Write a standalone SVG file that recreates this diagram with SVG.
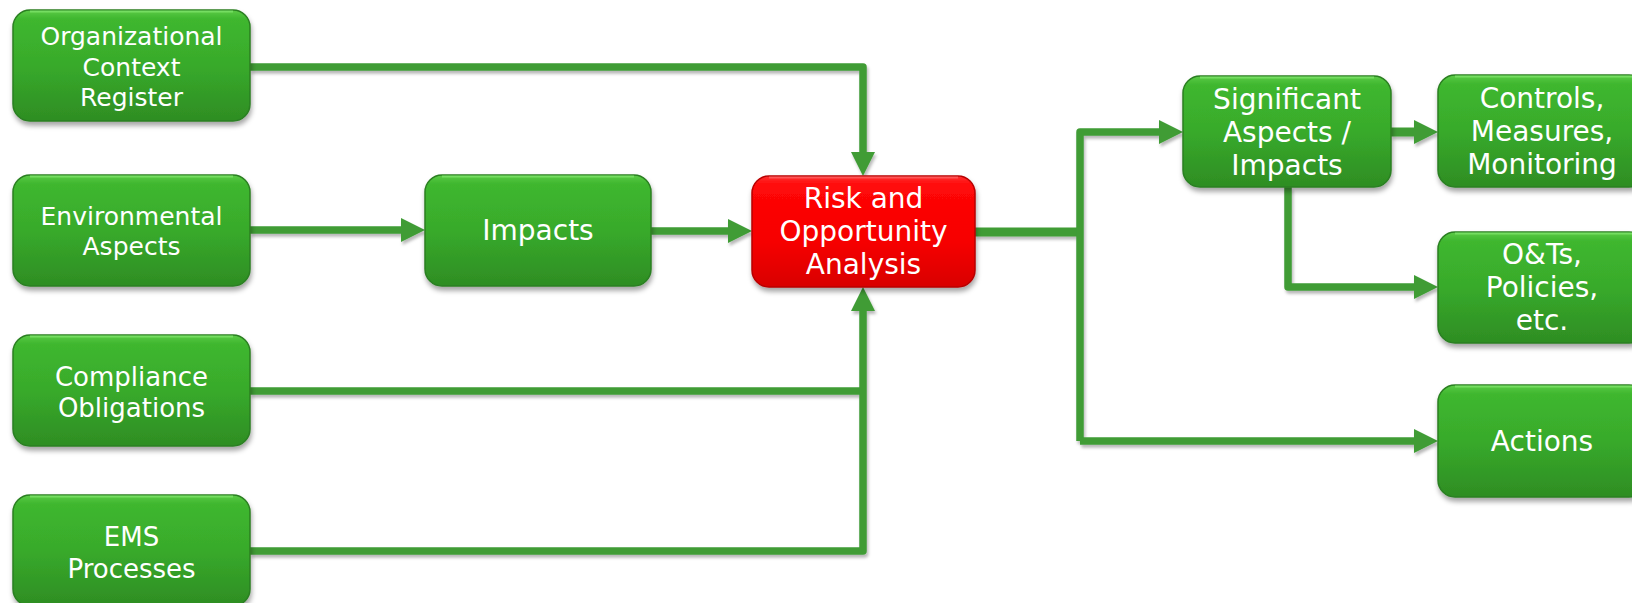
<svg xmlns="http://www.w3.org/2000/svg" width="1632" height="603" viewBox="0 0 1632 603">
  <style>
    .lbl { font-family: "DejaVu Sans", Verdana, sans-serif; fill: #ffffff; text-anchor: middle; }
    .s25 { font-size: 25px; }
    .s26 { font-size: 26px; }
    .s28 { font-size: 28px; }
    .green { fill: url(#gGreen); stroke: #2b7f21; stroke-width: 1.5; filter: url(#boxShadow); }
    .red { fill: url(#gRed); stroke: #b80606; stroke-width: 1.5; filter: url(#boxShadow); }
    .gloss { fill: none; stroke: #7de26a; stroke-width: 2; opacity: 0.8; }
    .glossR { fill: none; stroke: #ff6a6a; stroke-width: 2; opacity: 0.7; }
    .wire { fill: none; stroke: #3f9c35; stroke-width: 7.5; stroke-linejoin: round; }
  </style>
  <defs>
    <linearGradient id="gGreen" x1="0" y1="0" x2="0" y2="1">
      <stop offset="0" stop-color="#5ccb47"/>
      <stop offset="0.08" stop-color="#3fb72f"/>
      <stop offset="0.5" stop-color="#38aa2b"/>
      <stop offset="1" stop-color="#2e8d23"/>
    </linearGradient>
    <linearGradient id="gRed" x1="0" y1="0" x2="0" y2="1">
      <stop offset="0" stop-color="#ff3030"/>
      <stop offset="0.08" stop-color="#ff0808"/>
      <stop offset="0.6" stop-color="#f60000"/>
      <stop offset="1" stop-color="#d80202"/>
    </linearGradient>
    <filter id="boxShadow" x="-10%" y="-10%" width="120%" height="130%">
      <feDropShadow dx="1" dy="4" stdDeviation="2.5" flood-color="#000" flood-opacity="0.35"/>
    </filter>
    <filter id="wireShadow" x="-5%" y="-5%" width="110%" height="110%">
      <feDropShadow dx="1.5" dy="3" stdDeviation="1.5" flood-color="#000" flood-opacity="0.28"/>
    </filter>
    <marker id="head" viewBox="0 0 24 24" refX="0" refY="12" markerWidth="24" markerHeight="24" markerUnits="userSpaceOnUse" orient="auto">
      <path d="M0,0 L24,12 L0,24 z" fill="#3f9c35"/>
    </marker>
  </defs>

  <!-- connectors -->
  <g id="connectors" filter="url(#wireShadow)">
    <path class="wire" d="M250,67 H863 V152" marker-end="url(#head)"/>
    <path class="wire" d="M250,230 H401" marker-end="url(#head)"/>
    <path class="wire" d="M651,231 H728" marker-end="url(#head)"/>
    <path class="wire" d="M250,391 H863"/>
    <path class="wire" d="M250,551 H863 V311" marker-end="url(#head)"/>
    <path class="wire" d="M975,232 H1080" style="stroke-width:9"/>
    <path class="wire" d="M1080,441 V132 H1159" marker-end="url(#head)"/>
    <path class="wire" d="M1080,441 H1414" marker-end="url(#head)"/>
    <path class="wire" d="M1391,132 H1414" marker-end="url(#head)" style="stroke-width:9"/>
    <path class="wire" d="M1288,187 V287 H1414" marker-end="url(#head)"/>
  </g>

  <g id="org-context">
    <rect class="green" x="13" y="10" width="237" height="111" rx="17"/>
    <path class="gloss" d="M30,11.5 H233"/>
    <text class="lbl s25" x="131.5" y="45">Organizational</text>
    <text class="lbl s25" x="131.5" y="75.5">Context</text>
    <text class="lbl s25" x="131.5" y="106">Register</text>
  </g>

  <g id="env-aspects">
    <rect class="green" x="13" y="175" width="237" height="111" rx="17"/>
    <path class="gloss" d="M30,176.5 H233"/>
    <text class="lbl s25" x="131.5" y="225">Environmental</text>
    <text class="lbl s25" x="131.5" y="255">Aspects</text>
  </g>

  <g id="compliance">
    <rect class="green" x="13" y="335" width="237" height="111" rx="17"/>
    <path class="gloss" d="M30,336.5 H233"/>
    <text class="lbl s26" x="131.5" y="386">Compliance</text>
    <text class="lbl s26" x="131.5" y="417">Obligations</text>
  </g>

  <g id="ems-processes">
    <rect class="green" x="13" y="495" width="237" height="111" rx="17"/>
    <path class="gloss" d="M30,496.5 H233"/>
    <text class="lbl s26" x="131.5" y="546">EMS</text>
    <text class="lbl s26" x="131.5" y="578">Processes</text>
  </g>

  <g id="impacts">
    <rect class="green" x="425" y="175" width="226" height="111" rx="17"/>
    <path class="gloss" d="M442,176.5 H634"/>
    <text class="lbl s28" x="538" y="240">Impacts</text>
  </g>

  <g id="risk-opportunity">
    <rect class="red" x="752" y="176" width="223" height="111" rx="17"/>
    <path class="glossR" d="M769,177.5 H958"/>
    <text class="lbl s28" x="863.5" y="208">Risk and</text>
    <text class="lbl s28" x="863.5" y="241">Opportunity</text>
    <text class="lbl s28" x="863.5" y="274">Analysis</text>
  </g>

  <g id="significant">
    <rect class="green" x="1183" y="76" width="208" height="111" rx="17"/>
    <path class="gloss" d="M1200,77.5 H1374"/>
    <text class="lbl s28" x="1287" y="109">Significant</text>
    <text class="lbl s28" x="1287" y="142">Aspects /</text>
    <text class="lbl s28" x="1287" y="175">Impacts</text>
  </g>

  <g id="controls">
    <rect class="green" x="1438" y="75" width="208" height="112" rx="17"/>
    <path class="gloss" d="M1455,76.5 H1632"/>
    <text class="lbl s28" x="1542" y="108">Controls,</text>
    <text class="lbl s28" x="1542" y="141">Measures,</text>
    <text class="lbl s28" x="1542" y="174">Monitoring</text>
  </g>

  <g id="objectives">
    <rect class="green" x="1438" y="232" width="208" height="111" rx="17"/>
    <path class="gloss" d="M1455,233.5 H1632"/>
    <text class="lbl s28" x="1542" y="264">O&amp;Ts,</text>
    <text class="lbl s28" x="1542" y="297">Policies,</text>
    <text class="lbl s28" x="1542" y="330">etc.</text>
  </g>

  <g id="actions">
    <rect class="green" x="1438" y="385" width="208" height="112" rx="17"/>
    <path class="gloss" d="M1455,386.5 H1632"/>
    <text class="lbl s28" x="1542" y="451">Actions</text>
  </g>
</svg>
